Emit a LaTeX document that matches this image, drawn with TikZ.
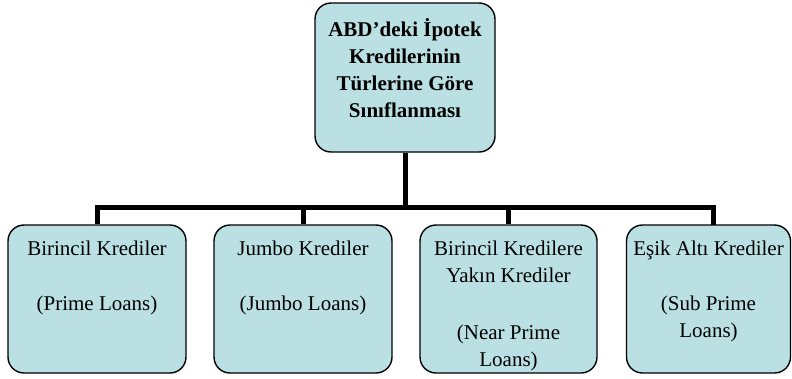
\documentclass[tikz,border=0pt]{standalone}
\usepackage{fontspec}
\setmainfont{Liberation Serif}
\definecolor{boxfill}{RGB}{187,224,227}
\begin{document}
\begin{tikzpicture}[x=1pt,y=-1pt,
  box/.style={draw=black,line width=1.4pt,fill=boxfill,rounded corners=16pt,inner sep=0pt},
  txt/.style={anchor=north,inner sep=0pt,align=center,font=\fontsize{21}{27}\selectfont},
  conn/.style={line width=5pt,draw=black}]
\useasboundingbox (0,0) rectangle (792,378);
% top box
\node[box,minimum width=180pt,minimum height=149pt] (top) at (405,77.5) {};
\node[txt,font=\fontsize{21}{27}\selectfont\bfseries] (toptxt) at ([yshift=-16pt]top.north) {ABD’deki İpotek\\Kredilerinin\\Türlerine Göre\\Sınıflanması};
% bottom boxes
\node[box,minimum width=178pt,minimum height=148pt] (b1) at (97,299) {};
\node[box,minimum width=178pt,minimum height=148pt] (b2) at (303,299) {};
\node[box,minimum width=177pt,minimum height=148pt] (b3) at (508.5,299) {};
\node[box,minimum width=164pt,minimum height=148pt] (b4) at (708.5,299) {};
\node[txt] (t1) at ([yshift=-16pt]b1.north) {Birincil Krediler\\[28pt](Prime Loans)};
\node[txt] (t2) at ([yshift=-16pt]b2.north) {Jumbo Krediler\\[28pt](Jumbo Loans)};
\node[txt] (t3) at ([yshift=-16pt]b3.north) {Birincil Kredilere\\Yakın Krediler\\[30pt](Near Prime\\Loans)};
\node[txt] (t4) at ([yshift=-16pt]b4.north) {Eşik Altı Krediler\\[28pt](Sub Prime\\Loans)};
% connectors
\coordinate (j) at (405,207);
\coordinate (d4) at (713,225);
\draw[conn] (top.south) -- (j);
\draw[conn] (b1.north) |- (j);
\draw[conn] (b2.north) |- (j);
\draw[conn] (b3.north) |- (j);
\draw[conn] (d4) |- (j);
\end{tikzpicture}
\end{document}
